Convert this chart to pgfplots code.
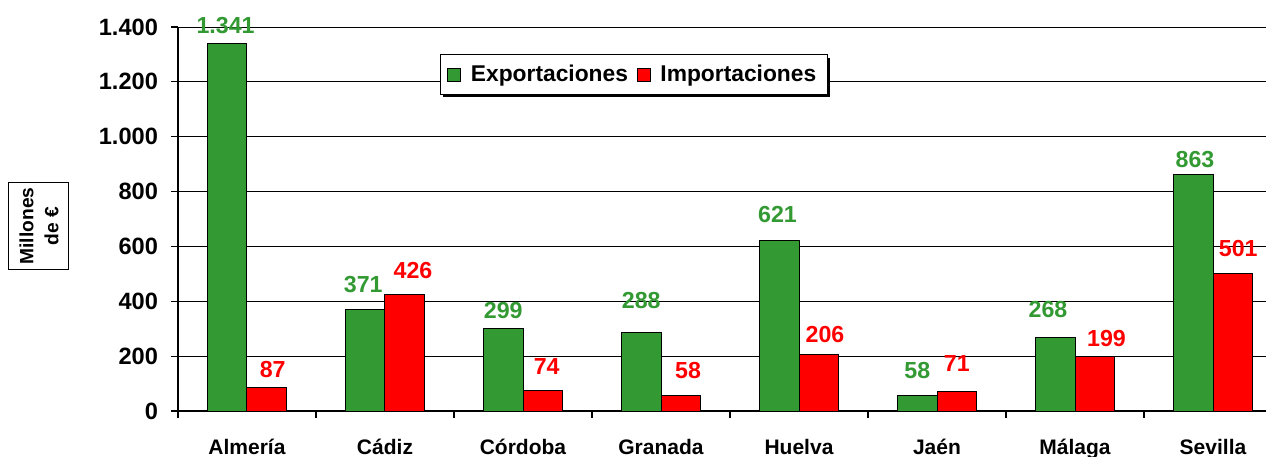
\documentclass[border=0pt]{standalone}
\usepackage{fontspec}
\setmainfont{Liberation Sans}
\usepackage{pgfplots}
\usepackage{pgfplotstable}
\pgfplotsset{compat=1.18}
\usetikzlibrary{shadows}
\definecolor{expg}{RGB}{51,153,51}
\definecolor{impr}{RGB}{255,0,0}
\makeatletter
\tikzset{nopre/.code={\let\tikz@preactions\pgfutil@empty}}
\makeatother
\pgfplotstableread{
x y lab dx dy
0 1341 1.341 -0.85 4.7
1 371 371 -1.0 7.85
2 299 299 0 4.7
3 288 288 0 11.2
4 621 621 -0.85 8.7
5 58 58 0 7.85
6 268 268 -3.65 9.7
7 863 863 0.9 2.85
}\exptable
\pgfplotstableread{
x y lab dx dy
0 87 87 3.0 4.5
1 426 426 4.15 7.5
2 74 74 2.0 8.0
3 58 58 3.65 8.0
4 206 206 3.15 5.5
5 71 71 0 9.8
6 199 199 5.85 4.65
7 501 501 2.75 8.35
}\imptable
\begin{document}
\begin{tikzpicture}
\begin{axis}[
  scale only axis, width=544pt, height=192pt,
  xmin=-0.5, xmax=7.384, ymin=0, ymax=1400,
  clip=false,
  axis x line=bottom, axis y line=left,
  axis line style={-, line width=0.6pt, black},
  ybar=0pt, bar width=19.75pt,
  tick align=outside, major tick length=0pt, minor tick length=3.5pt,
  tick style={black, line width=0.6pt},
  xtick={0,1,2,3,4,5,6,7},
  xticklabels={Almería,Cádiz,Córdoba,Granada,Huelva,Jaén,Málaga,Sevilla},
  minor xtick={-0.5,0.5,1.5,2.5,3.5,4.5,5.5,6.5},
  xticklabel style={font=\fontsize{10.5}{12}\selectfont\bfseries, yshift=-10.5pt},
  ytick={0,200,...,1400},
  minor ytick={0,200,...,1400},
  yticklabels={0,200,400,600,800,{1.000},{1.200},{1.400}},
  yticklabel style={font=\fontsize{11.8}{13}\selectfont\bfseries, xshift=-6.5pt},
  ymajorgrids, grid style={black, line width=0.5pt},
  point meta=explicit symbolic,
  nodes near coords,
  visualization depends on={\thisrow{dx} \as \mydx},
  visualization depends on={\thisrow{dy} \as \mydy},
  every node near coord/.append style={font=\fontsize{11.6}{13}\selectfont\bfseries,
    anchor=south, inner sep=0pt, xshift=\mydx*1pt, yshift=\mydy*1pt},
  legend columns=2,
  legend style={at={(0.419,0.876)}, anchor=center, draw=black, line width=0.6pt,
    fill=white, font=\fontsize{11.4}{13}\selectfont\bfseries,
    drop shadow={shadow xshift=1.5pt, shadow yshift=-1.5pt, fill=black, opacity=1},
    inner ysep=3pt, inner xsep=3.5pt,
    /tikz/every odd column/.append style={column sep=2.8pt},
    /tikz/every even column/.append style={column sep=2.5pt}},
  mylegend/.style={legend image code/.code={\draw[##1, nopre, draw=black, line width=0.5pt] (0pt,-3.2pt) rectangle (6.4pt,3.2pt);}},
]
\addplot[fill=expg, draw=black, line width=0.5pt, mylegend,
  every node near coord/.append style={text=expg}]
  table[x=x, y=y, meta=lab] {\exptable};
\addlegendentry{Exportaciones}
\addplot[fill=impr, draw=black, line width=0.5pt, mylegend,
  every node near coord/.append style={text=impr}]
  table[x=x, y=y, meta=lab] {\imptable};
\addlegendentry{Importaciones}
\end{axis}
\node[draw=black, line width=0.5pt, rotate=90, align=center,
  font=\fontsize{9.6}{12.5}\selectfont\bfseries,
  minimum width=43.5pt, minimum height=30pt, inner sep=0pt] at (-69.5pt,92.5pt) {Millones\\de €};
\pgfresetboundingbox
\path (-89pt,-22.5pt) rectangle (544pt,205.5pt);
\end{tikzpicture}
\end{document}
